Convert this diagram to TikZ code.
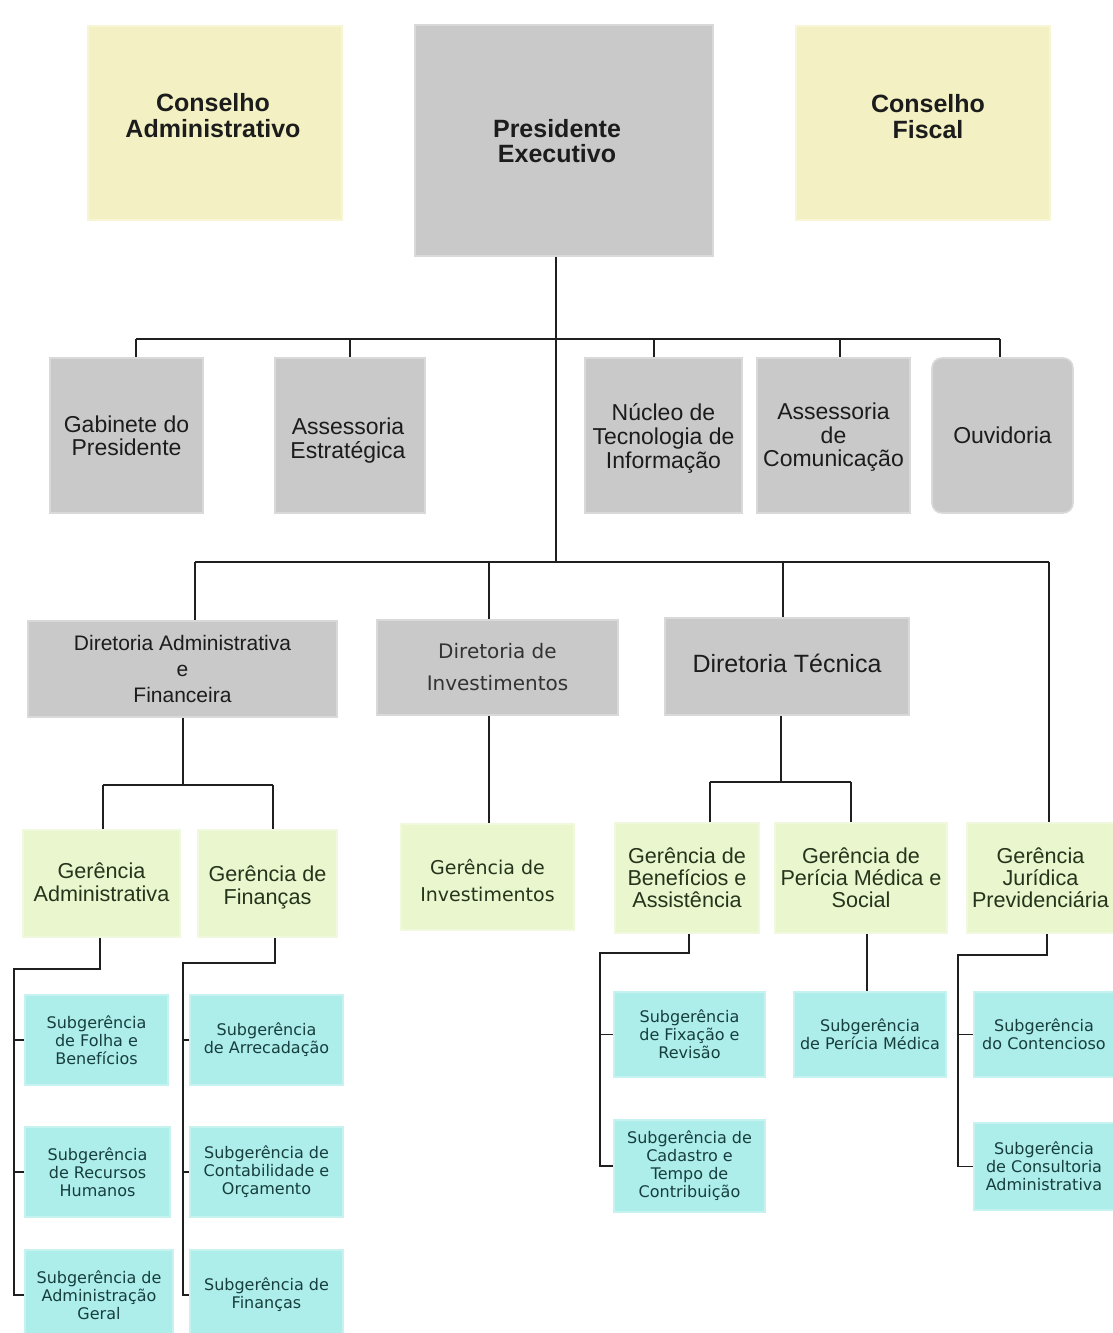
\documentclass[tikz,border=0pt]{standalone}
\usepackage{fontspec}
\setmainfont{Liberation Sans}
\newfontfamily\dvs{DejaVu Sans}
\definecolor{gbx}{HTML}{C9C9C9}
\definecolor{ybx}{HTML}{F3F1C3}
\definecolor{lgbx}{HTML}{EAF6CE}
\definecolor{cbx}{HTML}{ADEEEA}
\definecolor{ktxt}{HTML}{1C1C1C}
\definecolor{gtxt}{HTML}{26341C}
\definecolor{ctxt}{HTML}{173E3E}
\definecolor{ltxt}{HTML}{333333}
\newcommand{\orgbox}[7]{\node[#1,minimum width={(#5)-(#3)},minimum height={(#6)-(#4)}] (#2) at ({((#3)+(#5))/2},{((#4)+(#6))/2}) {#7};}
\newcommand{\tx}[3]{\raisebox{#2}[\height][\depth]{\hspace*{#1}\begin{tabular}{@{}c@{}}#3\end{tabular}\hspace*{-#1}}}
\begin{document}
\begin{tikzpicture}[x=1pt,y=-1pt,
  base/.style={inner sep=0pt, align=center, line width=1.6pt, rectangle},
  topbox/.style={base, fill=ybx, draw=ybx!70!white, text=ktxt, font=\bfseries\fontsize{25}{25}\selectfont},
  presbox/.style={base, fill=gbx, draw=gbx!70!white, text=ktxt, font=\bfseries\fontsize{25}{25}\selectfont},
  rowbox/.style={base, fill=gbx, draw=gbx!70!white, text=ktxt, font=\fontsize{23}{23.2}\selectfont},
  dirbox/.style={base, fill=gbx, draw=gbx!70!white, text=ktxt, font=\fontsize{21}{26}\selectfont},
  gerbox/.style={base, fill=lgbx, draw=lgbx!70!white, text=gtxt, font=\fontsize{21.6}{22}\selectfont},
  subbox/.style={base, fill=cbx, draw=cbx!70!white, text=ctxt, font=\dvs\fontsize{16}{18}\selectfont},
  conn/.style={line width=1.5pt, draw=black!88}
]
\useasboundingbox (0,0) rectangle (1112,1333);
\fill[white] (0,0) rectangle (1112,1333);

% top row
\orgbox{topbox}{ca}{88}{26}{342}{220}{\tx{-2pt}{4pt}{Conselho\\Administrativo}}
\orgbox{presbox}{pres}{415}{25}{713}{256}{\tx{-7pt}{-4pt}{Presidente\\Executivo}}
\orgbox{topbox}{cf}{796}{26}{1050}{220}{\tx{5pt}{3pt}{Conselho\\Fiscal}}

% second row
\orgbox{rowbox}{gab}{50}{358}{203}{513}{Gabinete do\\Presidente}
\orgbox{rowbox}{ae}{275}{358}{425}{513}{\tx{-2pt}{-6pt}{Assessoria\\Estratégica}}
\orgbox{rowbox}{nti}{585}{358}{742}{513}{\tx{0pt}{-4pt}{Núcleo de\\Tecnologia de\\Informação}}
\orgbox{rowbox}{com}{757}{358}{910}{513}{\tx{0pt}{-3pt}{Assessoria\\de\\Comunicação}}
\orgbox{rowbox,rounded corners=10pt}{ouv}{932}{358}{1073}{513}{Ouvidoria}

% diretorias
\orgbox{dirbox}{dad}{28}{621}{337}{717}{Diretoria Administrativa\\e\\Financeira}
\orgbox{base, fill=gbx, draw=gbx!70!white, text=ltxt, font=\dvs\fontsize{20}{32}\selectfont}{dinv}{377}{620}{618}{715}{Diretoria de\\Investimentos}
\orgbox{base, fill=gbx, draw=gbx!70!white, text=ktxt, font=\fontsize{25}{26}\selectfont}{dtec}{665}{618}{909}{715}{\tx{0pt}{-1pt}{Diretoria Técnica}}

% gerencias
\orgbox{gerbox}{gadm}{23}{830}{180}{937}{\tx{0pt}{-2pt}{Gerência\\Administrativa}}
\orgbox{gerbox}{gfin}{198}{830}{337}{937}{\tx{0pt}{-5pt}{Gerência de\\Finanças}}
\orgbox{base, fill=lgbx, draw=lgbx!70!white, text=gtxt, font=\dvs\fontsize{19}{27}\selectfont}{ginv}{401}{824}{574}{930}{\tx{0pt}{-6pt}{Gerência de\\Investimentos}}
\orgbox{gerbox}{gben}{615}{823}{759}{933}{Gerência de\\Benefícios e\\Assistência}
\orgbox{gerbox}{gper}{775}{823}{947}{933}{Gerência de\\Perícia Médica e\\Social}
\orgbox{gerbox}{gjur}{967}{823}{1114}{933}{Gerência\\Jurídica\\Previdenciária}

% subgerencias
\orgbox{subbox}{sfol}{25}{995}{168}{1085}{Subgerência\\de Folha e\\Benefícios}
\orgbox{subbox}{srh}{25}{1127}{170}{1217}{Subgerência\\de Recursos\\Humanos}
\orgbox{subbox}{sag}{25}{1250}{173}{1340}{Subgerência de\\Administração\\Geral}
\orgbox{subbox}{sarr}{190}{995}{343}{1085}{Subgerência\\de Arrecadação}
\orgbox{subbox}{scont}{190}{1127}{343}{1217}{Subgerência de\\Contabilidade e\\Orçamento}
\orgbox{subbox}{sfin}{190}{1250}{343}{1340}{Subgerência de\\Finanças}
\orgbox{subbox}{sfix}{614}{992}{765}{1077}{Subgerência\\de Fixação e\\Revisão}
\orgbox{subbox}{scad}{614}{1120}{765}{1212}{Subgerência de\\Cadastro e\\Tempo de\\Contribuição}
\orgbox{subbox}{sper}{794}{992}{946}{1077}{Subgerência\\de Perícia Médica}
\orgbox{subbox}{scon}{974}{992}{1114}{1077}{Subgerência\\do Contencioso}
\orgbox{subbox}{scons}{974}{1123}{1114}{1210}{Subgerência\\de Consultoria\\Administrativa}

% junction coordinates
\coordinate (t1) at (556,339);
\coordinate (t2) at (556,562);
\coordinate (a1) at (136,339);
\coordinate (a2) at (350,339);
\coordinate (a3) at (654,339);
\coordinate (a4) at (840,339);
\coordinate (a5) at (1000,339);
\coordinate (b1) at (195,562);
\coordinate (b2) at (489,562);
\coordinate (b3) at (783,562);
\coordinate (b4) at (1049,562);
\coordinate (c0) at (183,785);
\coordinate (c1) at (103,785);
\coordinate (c2) at (273,785);
\coordinate (e0) at (781,782);
\coordinate (e1) at (710,782);
\coordinate (e2) at (851,782);
\coordinate (la) at (100,969);
\coordinate (lb) at (14,969);
\coordinate (fa) at (275,963);
\coordinate (fb) at (183,963);
\coordinate (ba) at (689,953);
\coordinate (bb) at (600,953);
\coordinate (pa) at (867,953);
\coordinate (ja) at (1047,955);
\coordinate (jb) at (958,955);

% trunk and buses
\draw[conn] (pres.south -| t1) -- (t2);
\draw[conn] (a1) -- (a5);
\draw[conn] (b1) -- (b4);
\draw[conn] (a1) -- (a1 |- gab.north);
\draw[conn] (a2) -- (a2 |- ae.north);
\draw[conn] (a3) -- (a3 |- nti.north);
\draw[conn] (a4) -- (a4 |- com.north);
\draw[conn] (a5) -- (a5 |- ouv.north);
\draw[conn] (b1) -- (b1 |- dad.north);
\draw[conn] (b2) -- (b2 |- dinv.north);
\draw[conn] (b3) -- (b3 |- dtec.north);
\draw[conn] (b4) -- (b4 |- gjur.north);

% diretoria adm
\draw[conn] (dad.south -| c0) -- (c0);
\draw[conn] (c1) -- (c2);
\draw[conn] (c1) -- (c1 |- gadm.north);
\draw[conn] (c2) -- (c2 |- gfin.north);
% diretoria inv
\draw[conn] (dinv.south -| b2) -- (b2 |- ginv.north);
% diretoria tecnica
\draw[conn] (dtec.south -| e0) -- (e0);
\draw[conn] (e1) -- (e2);
\draw[conn] (e1) -- (e1 |- gben.north);
\draw[conn] (e2) -- (e2 |- gper.north);

% gerencia administrativa
\draw[conn] (gadm.south -| la) -- (la) -- (lb) -- (lb |- sag.west) -- (sag.west);
\draw[conn] (lb |- sfol.west) -- (sfol.west);
\draw[conn] (lb |- srh.west) -- (srh.west);
% gerencia financas
\draw[conn] (gfin.south -| fa) -- (fa) -- (fb) -- (fb |- sfin.west) -- (sfin.west);
\draw[conn] (fb |- sarr.west) -- (sarr.west);
\draw[conn] (fb |- scont.west) -- (scont.west);
% gerencia beneficios
\draw[conn] (gben.south -| ba) -- (ba) -- (bb) -- (bb |- scad.west) -- (scad.west);
\draw[conn] (bb |- sfix.west) -- (sfix.west);
% gerencia pericia
\draw[conn] (gper.south -| pa) -- (pa |- sper.north);
% gerencia juridica
\draw[conn] (gjur.south -| ja) -- (ja) -- (jb) -- (jb |- scons.west) -- (scons.west);
\draw[conn] (jb |- scon.west) -- (scon.west);
\end{tikzpicture}
\end{document}
